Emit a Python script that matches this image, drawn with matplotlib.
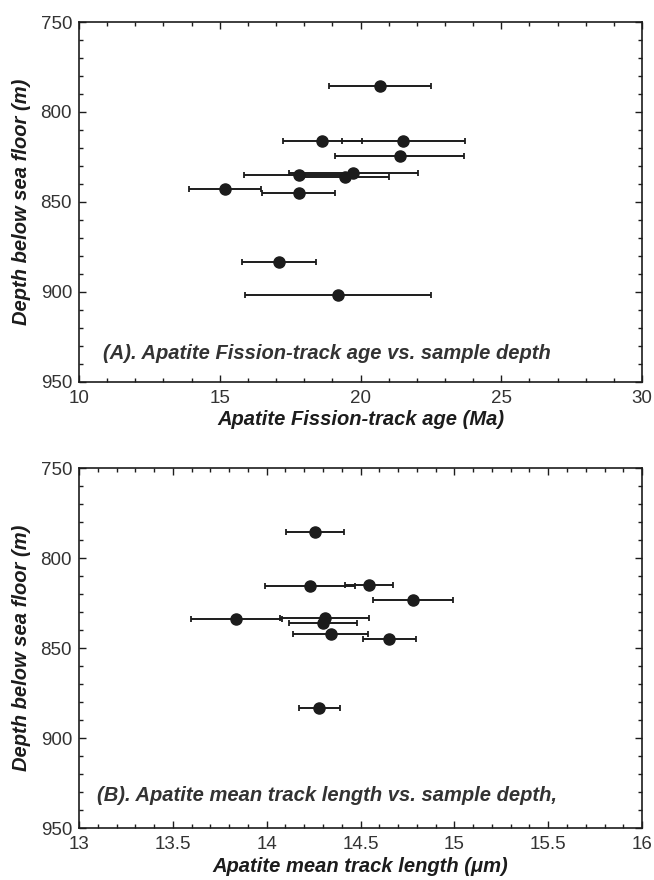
import matplotlib
matplotlib.use("Agg")
import matplotlib.pyplot as plt
from matplotlib.ticker import MultipleLocator

plt.rcParams['font.family'] = ['Liberation Sans', 'DejaVu Sans']

# panel A: apatite fission-track age
age = [20.7, 18.64, 21.52, 21.39, 19.74, 17.8, 19.43, 15.2, 17.8, 17.11, 19.2]
age_err = [1.81, 1.4, 2.19, 2.28, 2.29, 1.93, 1.57, 1.28, 1.3, 1.31, 3.3]
depth_a = [785.7, 816, 816, 824.3, 833.7, 834.8, 836.3, 842.8, 845.2, 883.5, 901.7]

# panel B: mean track length
mtl = [14.257, 14.233, 14.544, 14.78, 13.838, 14.31, 14.30, 14.34, 14.654, 14.28]
mtl_err = [0.153, 0.24, 0.128, 0.215, 0.243, 0.237, 0.18, 0.2, 0.14, 0.11]
depth_b = [785.3, 815.3, 815, 823.5, 834, 833, 836, 842.2, 845, 883.2]

ink = '#1c1c1c'

fig = plt.figure(figsize=(6.54, 8.8), dpi=100)
axA = fig.add_axes([0.1208, 0.566, 0.861, 0.409])
axB = fig.add_axes([0.1208, 0.059, 0.861, 0.409])


def style(ax, xmaj, xmin, xlab_off):
    ax.set_ylim(950, 750)
    ax.yaxis.set_major_locator(MultipleLocator(50))
    ax.yaxis.set_minor_locator(MultipleLocator(10))
    ax.xaxis.set_major_locator(MultipleLocator(xmaj))
    ax.xaxis.set_minor_locator(MultipleLocator(xmin))
    ax.xaxis.set_major_formatter(plt.FuncFormatter(lambda v, p: f'{v:g}'))
    ax.tick_params(which='both', direction='in', top=True, right=True,
                   labelsize=13.5, color=ink, labelcolor='#333333', width=1)
    ax.tick_params(which='major', length=5)
    ax.tick_params(which='minor', length=3)
    ax.tick_params(axis='x', which='major', pad=6)
    ax.tick_params(axis='y', which='major', pad=5)
    for s in ax.spines.values():
        s.set_linewidth(1.2)
        s.set_color(ink)
    ax.set_ylabel('Depth below sea floor (m)', fontsize=14.5, fontweight='bold',
                  fontstyle='italic', color=ink)
    ax.yaxis.set_label_coords(-57 / 563, 0.5)
    ax.yaxis.label.set_va('center')
    ax.xaxis.set_label_coords(0.5, -xlab_off / 360)
    ax.xaxis.label.set_va('center')


axA.errorbar(age, depth_a, xerr=age_err, fmt='o', color=ink, ms=8,
             ecolor=ink, elinewidth=1.4, capsize=2.5, capthick=1.3)
axA.set_xlim(10, 30)
axA.set_xlabel('Apatite Fission-track age (Ma)', fontsize=14.5, fontweight='bold',
               fontstyle='italic', color=ink)
style(axA, 5, 1, 38)
axA.text(10.85, 934, '(A). Apatite Fission-track age vs. sample depth',
         fontsize=14.5, fontweight='bold', fontstyle='italic', color='#333333',
         va='center', ha='left')

axB.errorbar(mtl, depth_b, xerr=mtl_err, fmt='o', color=ink, ms=8,
             ecolor=ink, elinewidth=1.4, capsize=2.5, capthick=1.3)
axB.set_xlim(13, 16)
axB.set_xlabel('Apatite mean track length (\u03bcm)', fontsize=14.5, fontweight='bold',
               fontstyle='italic', color=ink)
style(axB, 0.5, 0.1, 38)
axB.text(13.094, 932, '(B). Apatite mean track length vs. sample depth,',
         fontsize=14.5, fontweight='bold', fontstyle='italic', color='#333333',
         va='center', ha='left')

fig.savefig('out.png', dpi=100)
